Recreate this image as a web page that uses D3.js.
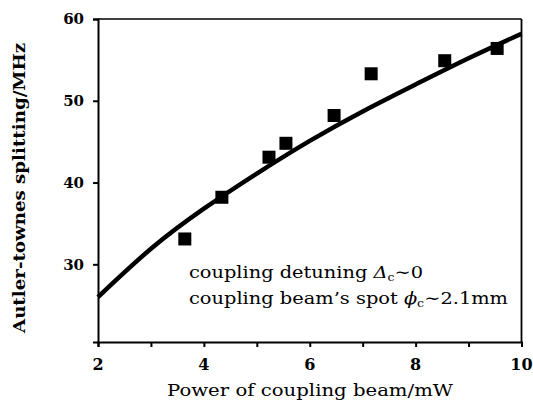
<!DOCTYPE html>
<html>
<head>
<meta charset="utf-8">
<script src="https://cdn.jsdelivr.net/npm/d3@7"></script>
<style>
  body { margin: 0; background: #fff; }
  svg { display: block; }
</style>
</head>
<body>
<div id="my_dataviz"></div>
<script>
// measured points (power in mW, splitting in MHz)
const power = [3.64, 4.34, 5.23, 5.55, 6.46, 7.16, 8.55, 9.54]
const splitting = [33.1, 38.2, 43.1, 44.8, 48.2, 53.3, 54.9, 56.4]

// fitted curve
const fitPower = [2, 3, 4, 5, 6, 7, 8, 9, 10]
const fitSplitting = [26.0, 31.9, 36.8, 41.1, 45.1, 48.7, 52.0, 55.2, 58.2]

const xTicks = [2, 3, 4, 5, 6, 7, 8, 9, 10]
const xLabels = [2, 4, 6, 8, 10]
const yTicks = [30, 40, 50, 60]

// set the dimensions and margins of the graph
const margin = { top: 19, right: 11.5, bottom: 66, left: 98 },
  width = 533 - margin.left - margin.right,
  height = 408 - margin.top - margin.bottom

const svg = d3
  .select('#my_dataviz')
  .append('svg')
  .attr('width', 533)
  .attr('height', 408)

const g = svg.append('g').attr('transform', `translate(${margin.left}, ${margin.top})`)

const x = d3.scaleLinear().domain([2, 10]).range([0, width])
const y = d3.scaleLinear().domain([20.5, 60]).range([height, 0])

// frame (top and right)
g.append('line')
  .attr('x1', 0).attr('x2', width).attr('y1', 0).attr('y2', 0)
  .attr('stroke', 'black').attr('stroke-width', 1.4)
g.append('line')
  .attr('x1', width).attr('x2', width).attr('y1', 0).attr('y2', height)
  .attr('stroke', 'black').attr('stroke-width', 1.8)

// X axis
const xAxis = g.append('g')
  .attr('transform', 'translate(0,' + height + ')')
  .call(d3.axisBottom(x).tickValues(xTicks).tickSize(5).tickFormat(''))
xAxis.select('.domain').attr('stroke-width', 2)
xAxis.selectAll('.tick line').attr('stroke-width', 2)

g.selectAll('.x-label')
  .data(xLabels)
  .join('text')
  .attr('class', 'x-label')
  .attr('x', (d) => x(d))
  .attr('y', height + 28)
  .attr('text-anchor', 'middle')
  .attr('font-family', 'DejaVu Serif')
  .attr('font-weight', 'bold')
  .attr('font-size', '16px')
  .text((d) => d)

// Y axis
const yAxis = g.append('g')
  .call(d3.axisLeft(y).tickValues(yTicks).tickSize(5).tickPadding(9))
yAxis.select('.domain').attr('stroke-width', 2)
yAxis.selectAll('.tick line').attr('stroke-width', 2)
yAxis.selectAll('.tick text')
  .attr('font-family', 'DejaVu Serif')
  .attr('font-weight', 'bold')
  .attr('font-size', '15px')
  .attr('fill', 'black')

// X label
g.append('text')
  .attr('x', 212)
  .attr('y', height + 54)
  .attr('font-family', 'DejaVu Serif')
  .attr('font-size', '17px')
  .attr('text-anchor', 'middle')
  .attr('textLength', 286)
  .attr('lengthAdjust', 'spacingAndGlyphs')
  .text('Power of coupling beam/mW')

// Y label
g.append('text')
  .attr('x', -169)
  .attr('y', -73)
  .attr('font-family', 'DejaVu Serif')
  .attr('font-weight', 'bold')
  .attr('font-size', '16px')
  .attr('text-anchor', 'middle')
  .attr('transform', 'rotate(-90)')
  .attr('textLength', 290)
  .attr('lengthAdjust', 'spacingAndGlyphs')
  .text('Autler-townes splitting/MHz')

// fitted curve
g.append('path')
  .datum(fitPower.map((p, i) => ({ p, s: fitSplitting[i] })))
  .attr('d', d3.line().curve(d3.curveNatural).x((d) => x(d.p)).y((d) => y(d.s)))
  .attr('stroke', 'black')
  .style('stroke-width', 4.5)
  .style('fill', 'none')

// squares
const size = 13
g.selectAll('rect.pt')
  .data(power.map((p, i) => ({ p, s: splitting[i] })))
  .join('rect')
  .attr('class', 'pt')
  .attr('x', (d) => x(d.p) - size / 2)
  .attr('y', (d) => y(d.s) - size / 2)
  .attr('width', size)
  .attr('height', size)
  .style('fill', 'black')

// annotation
const note1 = g.append('text')
  .attr('x', 91).attr('y', 259)
  .attr('font-family', 'DejaVu Serif')
  .attr('font-size', '17px')
  .attr('textLength', 234)
  .attr('lengthAdjust', 'spacingAndGlyphs')
note1.append('tspan').text('coupling detuning ')
note1.append('tspan').attr('font-style', 'italic').text('Δ')
note1.append('tspan').attr('font-size', '11px').attr('dy', 3).text('c')
note1.append('tspan').attr('dy', -3).text('∼0')

const note2 = g.append('text')
  .attr('x', 91).attr('y', 285)
  .attr('font-family', 'DejaVu Serif')
  .attr('font-size', '17px')
  .attr('textLength', 319)
  .attr('lengthAdjust', 'spacingAndGlyphs')
note2.append('tspan').text('coupling beam’s spot ')
note2.append('tspan').attr('font-style', 'italic').text('ϕ')
note2.append('tspan').attr('font-size', '11px').attr('dy', 3).text('c')
note2.append('tspan').attr('dy', -3).text('∼2.1mm')
</script>
</body>
</html>
